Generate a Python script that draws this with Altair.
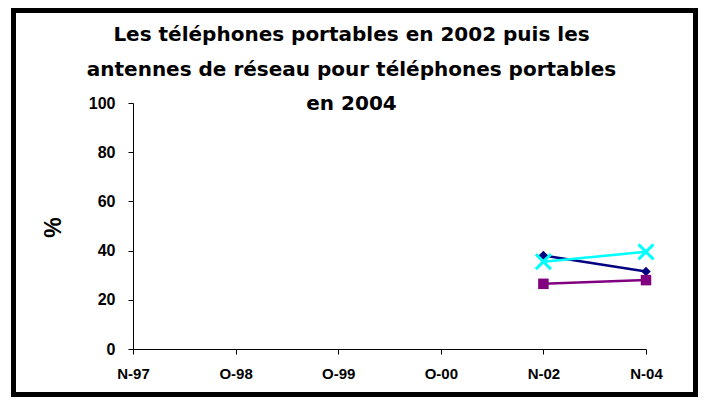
import altair as alt
import pandas as pd

categories = ["N-97", "O-98", "O-99", "O-00", "N-02", "N-04"]
y_ticks = [0, 20, 40, 60, 80, 100]
title_lines = [
    "Les téléphones portables en 2002 puis les",
    "antennes de réseau pour téléphones portables",
    "en 2004",
]
periods = ["N-02", "N-04"]
series_names = ["Série 1", "Série 2", "Série 3"]
series_1 = [38, 31.5]
series_2 = [26.5, 28]
series_3 = [35.5, 39.5]
series_colors = ["#000080", "#800080", "#00FFFF"]

rows = []
for name, vals in zip(series_names, [series_1, series_2, series_3]):
    for p, v in zip(periods, vals):
        rows.append({"periode": p, "valeur": v, "serie": name})
df = pd.DataFrame(rows)

FONT = "Arial, Liberation Sans, sans-serif"

x_enc = alt.X(
    "periode:O",
    scale=alt.Scale(type="point", domain=categories, padding=0),
    axis=alt.Axis(
        title=None, labelAngle=0, labelFont=FONT, labelFontSize=15,
        labelFontWeight="bold", labelColor="black", tickSize=5, labelPadding=12,
        domainColor="black", tickColor="black", grid=False,
    ),
)
y_enc = alt.Y(
    "valeur:Q",
    scale=alt.Scale(domain=[0, 100], nice=False),
    axis=alt.Axis(
        values=y_ticks, title="%", titleFont=FONT, titleFontSize=23,
        titleFontWeight="bold", titleColor="black", titleAngle=270,
        titleX=-80, titleY=124, titleAlign="center", titleBaseline="middle",
        labelFont=FONT, labelFontSize=16, labelFontWeight="bold",
        labelColor="black", tickSize=5, labelPadding=13, domainColor="black",
        tickColor="black", grid=False,
    ),
)
color_enc = alt.Color(
    "serie:N", scale=alt.Scale(domain=series_names, range=series_colors), legend=None
)

base = alt.Chart(df)
lines = base.mark_line(strokeWidth=2.5).encode(x=x_enc, y=y_enc, color=color_enc)
diamonds = base.transform_filter(alt.datum.serie == series_names[0]).mark_point(
    shape="diamond", filled=True, size=90, opacity=1
).encode(x=x_enc, y=y_enc, color=color_enc)
squares = base.transform_filter(alt.datum.serie == series_names[1]).mark_point(
    shape="square", filled=True, size=110, opacity=1
).encode(x=x_enc, y=y_enc, color=color_enc)
crosses = base.transform_filter(alt.datum.serie == series_names[2]).mark_point(
    shape="M-1,-1L1,1M-1,1L1,-1", filled=False, size=225, strokeWidth=3, opacity=1
).encode(x=x_enc, y=y_enc, color=color_enc)

one = pd.DataFrame({"k": [0]})
title = alt.Chart(one).mark_text(
    text=title_lines, font="DejaVu Sans", fontSize=20, fontWeight="bold",
    align="center", baseline="alphabetic", lineHeight=34.5, color="black",
).encode(x=alt.value(218.5), y=alt.value(-62))

border = alt.Chart(one).mark_rect(
    fillOpacity=0, stroke="black", strokeWidth=5
).encode(
    x=alt.value(-119.5), x2=alt.value(562.5), y=alt.value(-92.5), y2=alt.value(291.5)
)

chart = alt.layer(lines, diamonds, squares, crosses, title, border).properties(
    width=513,
    height=246,
    padding={"left": 125, "top": 95, "right": 52, "bottom": 48},
    autosize=alt.AutoSizeParams(type="none"),
    background="white",
).configure_view(stroke=None)

chart.save("out.html", embed_options={"renderer": "svg", "actions": False})
